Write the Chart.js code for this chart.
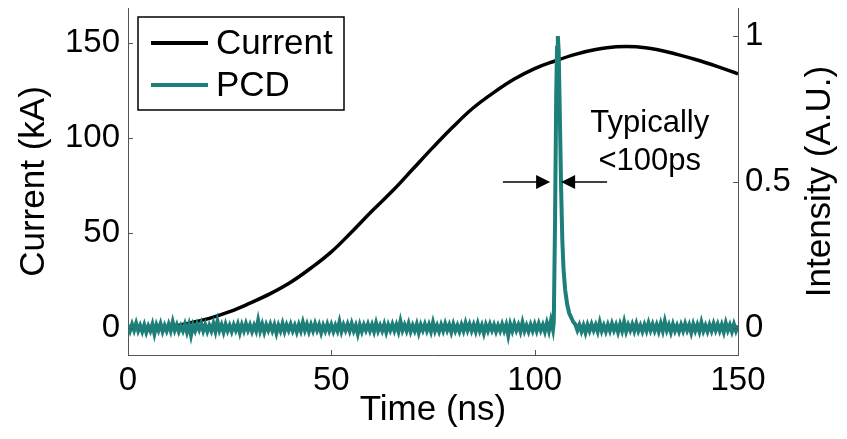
<!DOCTYPE html>
<html>
<head>
<meta charset="utf-8">
<script src="https://cdn.jsdelivr.net/npm/chart.js@4.4.1/dist/chart.umd.min.js"></script>
<style>
  html, body { margin: 0; padding: 0; background: #ffffff; }
  #wrap { width: 847px; height: 439px; }
</style>
</head>
<body>
<div id="wrap"><canvas id="pulseChart" width="847" height="439"></canvas></div>
<script>
// ============================================
// Data
// ============================================

// Current trace (kA) sampled every 5 ns
const currentTime = [0, 5, 10, 15, 20, 25, 30, 35, 40, 45, 50, 55, 60, 65, 70, 75,
    80, 85, 90, 95, 100, 105, 110, 115, 120, 125, 130, 135, 140, 145, 150];
const currentValue = [0, 0, 0.5, 2.5, 5, 8.5, 13, 18, 24, 31.5, 40, 50.5, 61.5, 72, 83.5, 95,
    106, 116, 124, 131, 136.5, 140.5, 144, 146.5, 148, 148, 146.5, 144, 141, 137.5, 133.7];

// PCD baseline noise, one sample per 0.5 ns
const pcdStep = 0.5;
const pcdPreStart = 0;      // 0 .. 104.5 ns
const pcdPreNoise = [
    0.010, -0.010, 0.012, -0.008, 0.015, -0.010, 0.008, -0.012, 0.010, -0.015,
    0.006, -0.010, 0.012, -0.020, 0.010, -0.008, 0.014, -0.012, 0.008, -0.010,
    0.012, -0.010, 0.020, -0.008, 0.010, -0.012, 0.006, -0.010, 0.012, -0.014,
    0.010, -0.025, 0.008, -0.010, 0.012, -0.006, 0.015, -0.010, 0.010, -0.012,
    0.008, -0.010, 0.014, -0.012, 0.022, -0.008, 0.010, -0.014, 0.012, -0.010,
    0.008, -0.012, 0.010, -0.008, 0.012, -0.016, 0.010, -0.010, 0.014, -0.008,
    0.010, -0.012, 0.008, -0.010, 0.025, -0.010, 0.012, -0.014, 0.010, -0.008,
    0.012, -0.010, 0.010, -0.018, 0.008, -0.010, 0.014, -0.012, 0.010, -0.008,
    0.012, -0.010, 0.008, -0.014, 0.010, -0.010, 0.018, -0.008, 0.012, -0.012,
    0.010, -0.010, 0.014, -0.008, 0.010, -0.016, 0.008, -0.010, 0.012, -0.010,
    0.010, -0.012, 0.008, -0.010, 0.020, -0.012, 0.010, -0.008, 0.012, -0.010,
    0.014, -0.010, 0.008, -0.020, 0.010, -0.012, 0.010, -0.008, 0.012, -0.010,
    0.010, -0.012, 0.016, -0.010, 0.008, -0.010, 0.012, -0.014, 0.010, -0.008,
    0.012, -0.010, 0.010, -0.012, 0.022, -0.008, 0.010, -0.010, 0.014, -0.012,
    0.008, -0.010, 0.012, -0.016, 0.010, -0.008, 0.012, -0.010, 0.010, -0.012,
    0.018, -0.010, 0.008, -0.012, 0.010, -0.010, 0.014, -0.008, 0.010, -0.014,
    0.012, -0.010, 0.008, -0.012, 0.010, -0.010, 0.016, -0.008, 0.012, -0.010,
    0.010, -0.012, 0.014, -0.010, 0.008, -0.018, 0.010, -0.010, 0.012, -0.008,
    0.010, -0.012, 0.008, -0.010, 0.012, -0.010, 0.010, -0.025, 0.012, -0.010,
    0.014, -0.008, 0.010, -0.012, 0.018, -0.010, 0.008, -0.012, 0.010, -0.010,
    0.012, -0.010, 0.014, -0.008, 0.010, -0.012, 0.016, -0.010, 0.025, -0.006
];

// the pulse itself
const pcdPulseTime = [104.7, 105.0, 105.3, 105.5, 105.7, 105.9, 106.2, 106.5, 106.8,
    107.1, 107.5, 108.0, 108.5, 109.0, 109.5];
const pcdPulseValue = [0.02, 0.35, 0.8, 0.96, 1.0, 0.95, 0.72, 0.48, 0.3,
    0.2, 0.13, 0.08, 0.05, 0.035, 0.02];

const pcdPostStart = 110;   // 110 .. 150 ns
const pcdPostNoise = [
    0.012, -0.008, 0.010, -0.012, 0.008, -0.016, 0.010, -0.010, 0.012, -0.008,
    0.010, -0.012, 0.018, -0.010, 0.008, -0.012, 0.010, -0.010, 0.014, -0.008,
    0.010, -0.014, 0.012, -0.010, 0.020, -0.012, 0.010, -0.008, 0.012, -0.010,
    0.014, -0.010, 0.008, -0.012, 0.010, -0.010, 0.016, -0.008, 0.012, -0.010,
    0.010, -0.012, 0.014, -0.010, 0.022, -0.008, 0.010, -0.014, 0.012, -0.010,
    0.008, -0.012, 0.010, -0.010, 0.014, -0.008, 0.010, -0.016, 0.012, -0.010,
    0.010, -0.012, 0.018, -0.010, 0.008, -0.012, 0.010, -0.010, 0.014, -0.008,
    0.012, -0.010, 0.010, -0.014, 0.016, -0.008, 0.010, -0.012, 0.012, -0.010,
    0.008
];

// axes
const timeRange = [0, 150];
const timeTicks = [0, 50, 100, 150];
const currentRange = [-14.3, 168.4];
const currentTicks = [0, 50, 100, 150];
const intensityRange = [-0.093, 1.096];
const intensityTicks = [0, 0.5, 1];
const intensityTickLabels = ['0', '0.5', '1'];

// annotation (data coordinates: time, intensity)
const arrowLevel = 0.5;
const arrowLeft = [92.2, 103.8];
const arrowRight = [117.8, 106.5];
const noteTime = 128.3;
const noteLines = ['Typically', '<100ps'];
const noteLevels = [0.70, 0.57];

// ============================================
// Build point lists
// ============================================

const currentPoints = currentTime.map((t, i) => ({ x: t, y: currentValue[i] }));

const pcdPoints = [];
pcdPreNoise.forEach((v, i) => pcdPoints.push({ x: pcdPreStart + i * pcdStep, y: v }));
pcdPulseTime.forEach((t, i) => pcdPoints.push({ x: t, y: pcdPulseValue[i] }));
pcdPostNoise.forEach((v, i) => pcdPoints.push({ x: pcdPostStart + i * pcdStep, y: v }));

const FONT = "'Liberation Sans', Arial, Helvetica, sans-serif";
const TEAL = '#1d7f7a';
const AXIS = '#555555';

function fixTicks(values) {
    return (scale) => { scale.ticks = values.map(v => ({ value: v })); };
}

// ============================================
// Plugins: inward tick marks, legend, right title, annotation
// ============================================

const decorations = {
    id: 'decorations',
    afterDatasetsDraw(chart) {
        const ctx = chart.ctx;
        const { x, yCur, yInt } = chart.scales;
        const area = chart.chartArea;

        // inward ticks
        ctx.save();
        ctx.strokeStyle = AXIS;
        ctx.lineWidth = 1;
        ctx.beginPath();
        timeTicks.forEach(v => {
            const px = Math.round(x.getPixelForValue(v)) + 0.5;
            ctx.moveTo(px, area.bottom);
            ctx.lineTo(px, area.bottom - 5);
        });
        currentTicks.forEach(v => {
            const py = Math.round(yCur.getPixelForValue(v)) + 0.5;
            ctx.moveTo(area.left, py);
            ctx.lineTo(area.left + 5, py);
        });
        intensityTicks.forEach(v => {
            const py = Math.round(yInt.getPixelForValue(v)) + 0.5;
            ctx.moveTo(area.right, py);
            ctx.lineTo(area.right - 5, py);
        });
        ctx.stroke();

        // arrows
        ctx.strokeStyle = '#000';
        ctx.fillStyle = '#000';
        ctx.lineWidth = 1.5;
        const ay = yInt.getPixelForValue(arrowLevel);
        [arrowLeft, arrowRight].forEach(([from, to]) => {
            const x0 = x.getPixelForValue(from);
            const x1 = x.getPixelForValue(to);
            const dir = Math.sign(x1 - x0);
            ctx.beginPath();
            ctx.moveTo(x0, ay);
            ctx.lineTo(x1 - dir * 10, ay);
            ctx.stroke();
            ctx.beginPath();
            ctx.moveTo(x1, ay);
            ctx.lineTo(x1 - dir * 14, ay - 7);
            ctx.lineTo(x1 - dir * 14, ay + 7);
            ctx.closePath();
            ctx.fill();
        });

        // note text
        ctx.font = '31px ' + FONT;
        ctx.textAlign = 'center';
        ctx.textBaseline = 'middle';
        noteLines.forEach((line, i) => {
            ctx.fillText(line, x.getPixelForValue(noteTime), yInt.getPixelForValue(noteLevels[i]));
        });

        // legend box
        const lx = area.left + 10, ly = area.top + 9, lw = 206, lh = 93;
        ctx.fillStyle = '#fff';
        ctx.fillRect(lx, ly, lw, lh);
        ctx.strokeStyle = '#000';
        ctx.lineWidth = 1.5;
        ctx.strokeRect(lx, ly, lw, lh);
        ctx.font = '35px ' + FONT;
        ctx.textAlign = 'left';
        chart.data.datasets.forEach((ds, i) => {
            const rowY = ly + 26 + i * 42;
            ctx.strokeStyle = ds.borderColor;
            ctx.lineWidth = 4;
            ctx.beginPath();
            ctx.moveTo(lx + 13, rowY);
            ctx.lineTo(lx + 70, rowY);
            ctx.stroke();
            ctx.fillStyle = '#000';
            ctx.fillText(ds.label, lx + 78, rowY + 1);
        });

        // right axis title, reading bottom to top
        ctx.translate(yInt.right - 27, (area.top + area.bottom) / 2);
        ctx.rotate(-Math.PI / 2);
        ctx.font = '35px ' + FONT;
        ctx.textAlign = 'center';
        ctx.fillStyle = '#000';
        ctx.fillText('Intensity (A.U.)', 0, 0);
        ctx.restore();
    }
};

// ============================================
// Chart
// ============================================

const pulseChart = new Chart(document.getElementById('pulseChart').getContext('2d'), {
    type: 'line',
    data: {
        datasets: [{
            label: 'Current',
            data: currentPoints,
            yAxisID: 'yCur',
            borderColor: '#000000',
            borderWidth: 3.5,
            pointRadius: 0,
            tension: 0.4,
            order: 1
        }, {
            label: 'PCD',
            data: pcdPoints,
            yAxisID: 'yInt',
            borderColor: TEAL,
            borderWidth: 4,
            pointRadius: 0,
            tension: 0,
            order: 0
        }]
    },
    options: {
        responsive: false,
        animation: false,
        layout: { padding: { top: 8, left: 0, right: 0, bottom: 0 } },
        plugins: { legend: { display: false }, tooltip: { enabled: false } },
        scales: {
            x: {
                type: 'linear',
                min: timeRange[0],
                max: timeRange[1],
                afterBuildTicks: fixTicks(timeTicks),
                afterFit: (s) => { s.height = 84; s.paddingLeft = 0; s.paddingRight = 0; },
                grid: { display: true, drawOnChartArea: false, drawTicks: false },
                border: { color: AXIS, width: 1 },
                ticks: { color: '#000', padding: 6, font: { family: FONT, size: 33 } },
                title: { display: true, text: 'Time (ns)', color: '#000', padding: { top: 0, bottom: 8 },
                         font: { family: FONT, size: 35 } }
            },
            yCur: {
                type: 'linear',
                position: 'left',
                min: currentRange[0],
                max: currentRange[1],
                afterBuildTicks: fixTicks(currentTicks),
                afterFit: (s) => { s.width = 128; s.paddingTop = 0; s.paddingBottom = 0; },
                grid: { display: true, drawOnChartArea: false, drawTicks: false },
                border: { color: AXIS, width: 1 },
                ticks: { color: '#000', padding: 8, font: { family: FONT, size: 33 } },
                title: { display: true, text: 'Current (kA)', color: '#000', padding: { top: 13, bottom: 0 },
                         font: { family: FONT, size: 35 } }
            },
            yInt: {
                type: 'linear',
                position: 'right',
                min: intensityRange[0],
                max: intensityRange[1],
                afterBuildTicks: fixTicks(intensityTicks),
                afterFit: (s) => { s.width = 109; s.paddingTop = 0; s.paddingBottom = 0; },
                grid: { display: true, drawOnChartArea: false, drawTicks: false },
                border: { color: AXIS, width: 1 },
                ticks: {
                    color: '#000', padding: 7, font: { family: FONT, size: 33 },
                    callback: (v, i) => intensityTickLabels[i]
                }
            }
        }
    },
    plugins: [decorations]
});
</script>
</body>
</html>
